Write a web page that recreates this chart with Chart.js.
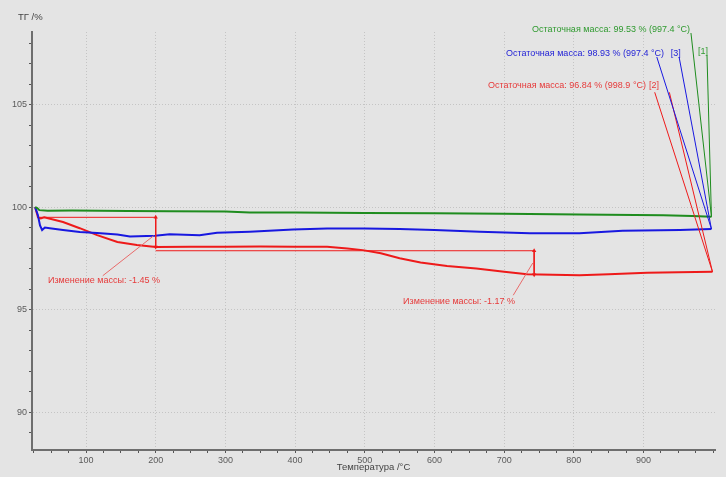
<!DOCTYPE html>
<html>
<head>
<meta charset="utf-8">
<script src="https://cdn.jsdelivr.net/npm/chart.js@4.4.1/dist/chart.umd.min.js"></script>
<style>
  html, body { margin: 0; padding: 0; background: #e4e4e4; }
  canvas { display: block; }
</style>
</head>
<body>
<canvas id="tgChart" width="726" height="477"></canvas>
<script>
// TG curves: temperature (°C) and residual mass (%)
const tGreen = [27, 30, 33, 45, 80, 120, 160, 220, 300, 335, 400, 500, 600, 700, 808, 928, 970, 997.4];
const mGreen = [100, 99.95, 99.85, 99.82, 99.83, 99.82, 99.81, 99.8, 99.78, 99.74, 99.73, 99.71, 99.7, 99.68, 99.64, 99.6, 99.57, 99.53];

const tBlue = [27, 31, 34, 37, 41, 48, 67, 91, 116, 145, 163, 199, 220, 263, 288, 335, 397, 446, 500, 550, 600, 665, 737, 808, 870, 952, 997.4];
const mBlue = [100, 99.6, 99.1, 98.88, 99.0, 98.97, 98.88, 98.78, 98.73, 98.66, 98.56, 98.6, 98.68, 98.63, 98.75, 98.8, 98.91, 98.96, 98.95, 98.93, 98.88, 98.8, 98.72, 98.72, 98.85, 98.88, 98.93];

const tRed = [27, 31, 35, 40, 67, 91, 116, 145, 173, 200, 250, 300, 350, 400, 446, 475, 497, 523, 550, 580, 618, 660, 700, 733, 770, 808, 850, 905, 950, 998.9];
const mRed = [100, 99.5, 99.45, 99.5, 99.27, 98.97, 98.63, 98.3, 98.15, 98.05, 98.07, 98.07, 98.08, 98.07, 98.06, 97.98, 97.9, 97.75, 97.5, 97.3, 97.12, 97.0, 96.85, 96.72, 96.7, 96.68, 96.72, 96.8, 96.82, 96.84];

const xLabels = [100, 200, 300, 400, 500, 600, 700, 800, 900];
const yLabels = [90, 95, 100, 105];

// mass change marks (step line, double arrow, leader to text)
const step1T = [33, 200],   step1M = [99.5, 99.5];
const arrow1T = [200, 200], arrow1M = [99.5, 98.05];
const lead1T = [124, 197],  lead1M = [96.65, 98.6];
const step2T = [200, 743],  step2M = [97.87, 97.87];
const arrow2T = [743, 743], arrow2M = [97.87, 96.7];
const lead2T = [713, 741],  lead2M = [95.7, 97.27];

// residual mass leaders
const gLeadT = [[968, 997.4], [991, 997.4]], gLeadM = [[108.49, 99.53], [107.41, 99.53]];
const bLeadT = [[919, 997.4], [951, 997.4]], bLeadM = [[107.32, 98.93], [107.32, 98.93]];
const rLeadT = [[916, 998.9], [937, 998.9]], rLeadM = [[105.6, 96.84], [105.6, 96.84]];

// text notes anchored in data units (left edge, middle)
const noteText = [
  'Остаточная масса: 99.53 % (997.4 °C)', '[1]',
  'Остаточная масса: 98.93 % (997.4 °C)', '[3]',
  'Остаточная масса: 96.84 % (998.9 °C)', '[2]',
  'Изменение массы: -1.45 %',
  'Изменение массы: -1.17 %'
];
const noteT = [740, 978, 702.6, 939, 676.7, 907.7, 45.5, 555];
const noteM = [108.68, 107.6, 107.51, 107.51, 105.95, 105.95, 96.4, 95.4];
const noteColor = ['#2f9a2f', '#2f9a2f', '#2323d6', '#2323d6', '#e63a3a', '#e63a3a', '#e63a3a', '#e63a3a'];

const GREEN = '#1e8c1e', BLUE = '#1818e0', RED = '#ee1a1a';

function pts(ts, ms) {
  return ts.map((t, i) => ({ x: t, y: ms[i] }));
}
function line(ts, ms, color, width) {
  return { data: pts(ts, ms), borderColor: color, borderWidth: width, showLine: true, pointRadius: 0, tension: 0 };
}
function arrow(ts, ms, color) {
  return {
    data: pts(ts, ms), borderColor: color, borderWidth: 1, showLine: true,
    pointStyle: 'triangle', pointRadius: 2.5, pointRotation: [0, 180],
    pointBackgroundColor: color, pointBorderWidth: 0
  };
}

const notesPlugin = {
  id: 'notes',
  afterDatasetsDraw(chart) {
    const { ctx, scales: { x, y } } = chart;
    ctx.save();
    ctx.font = '9px "Liberation Sans", Arial, sans-serif';
    ctx.textBaseline = 'middle';
    ctx.textAlign = 'left';
    noteText.forEach((txt, i) => {
      ctx.fillStyle = noteColor[i];
      ctx.fillText(txt, x.getPixelForValue(noteT[i]), y.getPixelForValue(noteM[i]));
    });
    // y axis caption sits above the axis
    ctx.fillStyle = '#444';
    ctx.font = '9.5px "Liberation Sans", Arial, sans-serif';
    ctx.fillText('ТГ /%', 18, 17);
    ctx.restore();
  }
};

const datasets = [
  line(step1T, step1M, RED, 1),
  arrow(arrow1T, arrow1M, RED),
  line(lead1T, lead1M, '#e86a6a', 1),
  line(step2T, step2M, RED, 1),
  arrow(arrow2T, arrow2M, RED),
  line(lead2T, lead2M, '#e86a6a', 1),
  line(gLeadT[0], gLeadM[0], GREEN, 1),
  line(gLeadT[1], gLeadM[1], GREEN, 1),
  line(bLeadT[0], bLeadM[0], BLUE, 1),
  line(bLeadT[1], bLeadM[1], BLUE, 1),
  line(rLeadT[0], rLeadM[0], RED, 1),
  line(rLeadT[1], rLeadM[1], RED, 1),
  line(tGreen, mGreen, GREEN, 2),
  line(tBlue, mBlue, BLUE, 2),
  line(tRed, mRed, RED, 2)
];

const tickFont = { family: '"Liberation Sans", Arial, sans-serif', size: 9 };

new Chart(document.getElementById('tgChart'), {
  type: 'scatter',
  data: { datasets },
  options: {
    responsive: false,
    animation: false,
    layout: { padding: { top: 32, right: 11, left: 0, bottom: 0 } },
    plugins: { legend: { display: false }, tooltip: { enabled: false } },
    scales: {
      x: {
        type: 'linear', min: 22.5, max: 1002.5,
        afterBuildTicks: s => {
          const t = [];
          for (let v = 25; v <= 1000; v += 25) t.push({ value: v });
          s.ticks = t;
        },
        afterFit: s => { s.height = 27; },
        ticks: {
          autoSkip: false, maxRotation: 0, padding: 2, color: '#5a5a5a', font: tickFont,
          callback: v => xLabels.includes(v) ? String(v) : ''
        },
        grid: {
          color: c => (c.tick && xLabels.includes(c.tick.value)) ? '#c4c4c4' : 'rgba(0,0,0,0)',
          tickColor: '#555', tickLength: 3, lineWidth: 1
        },
        border: { color: '#6e6e6e', width: 2, dash: [1, 2] },
        title: {
          display: true, text: 'Температура /°C', color: '#444',
          font: { family: '"Liberation Sans", Arial, sans-serif', size: 9.5 },
          padding: { top: 0, bottom: 4 }
        }
      },
      y: {
        type: 'linear', min: 88.15, max: 108.54,
        afterBuildTicks: s => {
          const t = [];
          for (let v = 89; v <= 108; v += 1) t.push({ value: v });
          s.ticks = t;
        },
        afterFit: s => { s.width = 32; },
        ticks: {
          autoSkip: false, padding: 2, color: '#5a5a5a', font: tickFont,
          callback: v => yLabels.includes(v) ? String(v) : ''
        },
        grid: {
          color: c => (c.tick && yLabels.includes(c.tick.value)) ? '#c4c4c4' : 'rgba(0,0,0,0)',
          tickColor: '#555', tickLength: 3, lineWidth: 1
        },
        border: { color: '#6e6e6e', width: 2, dash: [1, 2] }
      }
    }
  },
  plugins: [notesPlugin]
});
</script>
</body>
</html>
